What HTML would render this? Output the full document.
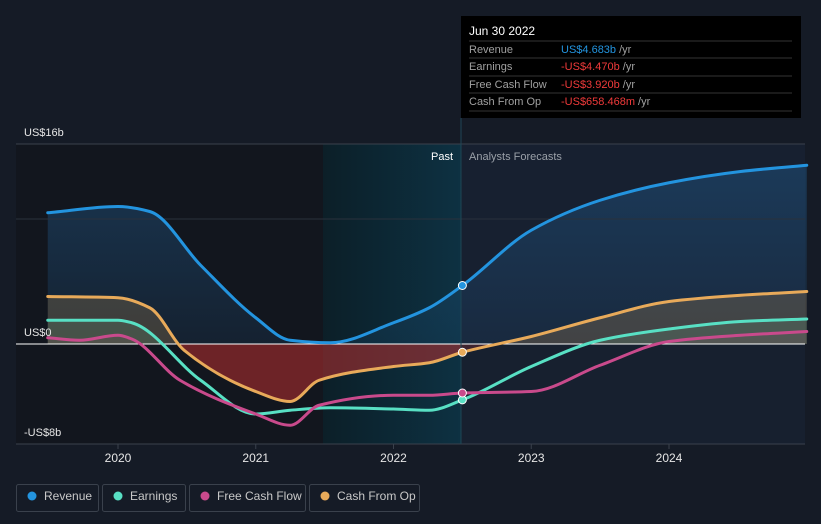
<!DOCTYPE html>
<html><head><meta charset="utf-8"><style>
body{margin:0;background:#151b26;width:821px;height:524px;overflow:hidden;font-family:"Liberation Sans",sans-serif}
svg{display:block}
</style></head><body>
<svg id="c" width="821" height="524">
<defs>
<linearGradient id="hl" x1="0" x2="1" y1="0" y2="0"><stop offset="0" stop-color="#0c1f28"/><stop offset="1" stop-color="#0d3142"/></linearGradient>
<linearGradient id="revg" x1="0" x2="0" y1="0" y2="1"><stop offset="0" stop-color="#1f4f7a" stop-opacity="0.55"/><stop offset="1" stop-color="#1f4f7a" stop-opacity="0.2"/></linearGradient>
<clipPath id="neg"><rect x="0" y="344" width="821" height="100"/></clipPath>
<clipPath id="pos"><rect x="0" y="0" width="821" height="344"/></clipPath>
</defs>
<rect x="16" y="144" width="307" height="300" fill="#12161e"/>
<rect x="323" y="144" width="138" height="300" fill="url(#hl)"/>
<rect x="461" y="144" width="344" height="300" fill="#172030"/>
<g id="fills"></g>
<line x1="16" x2="805" y1="144" y2="144" stroke="#3a414c"/>
<line x1="16" x2="805" y1="219" y2="219" stroke="#2a313c"/>
<line x1="16" x2="805" y1="444" y2="444" stroke="#3a414c"/>
<line x1="16" x2="805" y1="344" y2="344" stroke="#ffffff" stroke-width="1"/>
<line x1="461" x2="461" y1="118" y2="444" stroke="#1e4655"/>
<g id="lines"></g>
<g id="ticks" font-size="12" fill="#e6e6e6"></g>
<text x="24" y="136" font-size="11" fill="#e6e6e6">US$16b</text>
<text x="24" y="336" font-size="11" fill="#e6e6e6">US$0</text>
<text x="24" y="436" font-size="11" fill="#e6e6e6">-US$8b</text>
<text x="453" y="160" font-size="11" fill="#ffffff" text-anchor="end">Past</text>
<text x="469" y="160" font-size="11" fill="#9aa0a8">Analysts Forecasts</text>
<g font-size="11">
<rect x="461" y="16" width="340" height="102" fill="#000"/>
<text x="469" y="35" fill="#fff" font-size="12">Jun 30 2022</text>
<g stroke="#333"><line x1="469" x2="792" y1="41" y2="41"/><line x1="469" x2="792" y1="58" y2="58"/><line x1="469" x2="792" y1="76" y2="76"/><line x1="469" x2="792" y1="93" y2="93"/><line x1="469" x2="792" y1="111" y2="111"/></g>
<text x="469" y="53" fill="#a0a0a0">Revenue</text><text x="561" y="53" fill="#2394df">US$4.683b <tspan fill="#a0a0a0">/yr</tspan></text>
<text x="469" y="70" fill="#a0a0a0">Earnings</text><text x="561" y="70" fill="#f03a3a">-US$4.470b <tspan fill="#a0a0a0">/yr</tspan></text>
<text x="469" y="88" fill="#a0a0a0">Free Cash Flow</text><text x="561" y="88" fill="#f03a3a">-US$3.920b <tspan fill="#a0a0a0">/yr</tspan></text>
<text x="469" y="105" fill="#a0a0a0">Cash From Op</text><text x="561" y="105" fill="#f03a3a">-US$658.468m <tspan fill="#a0a0a0">/yr</tspan></text>
</g>
<g id="legend" font-size="12" fill="#c8c8c8"></g>
</svg>
<script>
const years=[2019.49,2020,2020.23,2020.6,2021,2021.25,2021.54,2022,2022.26,2022.5,2023,2023.5,2024,2024.52,2025];
const revenue=[10.5,11.0,10.6,6.3,2.1,0.3,0.1,1.7,2.9,4.68,9.1,11.5,12.9,13.8,14.3];
const earnYears=[2019.49,2020,2020.1,2020.6,2021,2021.25,2021.54,2022,2022.26,2022.5,2023,2023.5,2024,2024.52,2025];
const earnings=[1.9,1.9,1.7,-2.9,-5.6,-5.3,-5.1,-5.2,-5.3,-4.47,-1.8,0.3,1.2,1.8,2.0];
const fcfYears=[2019.49,2019.72,2020,2020.1,2020.45,2021,2021.25,2021.46,2022,2022.26,2022.5,2023,2023.5,2024,2024.52,2025];
const fcf=[0.5,0.3,0.7,0.4,-2.9,-5.6,-6.5,-4.9,-4.1,-4.1,-3.92,-3.8,-1.7,0.2,0.7,1.0];
const cfoYears=[2019.49,2020,2020.23,2020.48,2021,2021.25,2021.46,2022,2022.26,2022.5,2023,2023.5,2024,2024.52,2025];
const cfo=[3.8,3.7,2.9,-0.5,-3.8,-4.6,-2.9,-1.8,-1.5,-0.66,0.6,2.1,3.4,3.9,4.2];
const tickYears=[2020,2021,2022,2023,2024];
const tickLabels=["2020","2021","2022","2023","2024"];
const legendNames=["Revenue","Earnings","Free Cash Flow","Cash From Op"];
const X=y=>118+(y-2020)*137.75, Y=v=>344-v*12.5;
function path(xs,vs){const p=xs.map((x,i)=>[X(x),Y(vs[i])]);const n=p.length;
const dx=[],s=[];for(let i=0;i<n-1;i++){dx.push(p[i+1][0]-p[i][0]);s.push((p[i+1][1]-p[i][1])/dx[i]);}
const m=[s[0]];for(let i=1;i<n-1;i++){m.push(s[i-1]*s[i]<=0?0:(3*(dx[i-1]+dx[i]))/((2*dx[i]+dx[i-1])/s[i-1]+(dx[i]+2*dx[i-1])/s[i]));}m.push(s[n-2]);
let d=`M${p[0][0]},${p[0][1]}`;
for(let i=0;i<n-1;i++){const h=dx[i]/3;d+=`C${p[i][0]+h},${p[i][1]+m[i]*h} ${p[i+1][0]-h},${p[i+1][1]-m[i+1]*h} ${p[i+1][0]},${p[i+1][1]}`;}return d;}
const NS="http://www.w3.org/2000/svg";
function el(t,a,par){const e=document.createElementNS(NS,t);for(const k in a)e.setAttribute(k,a[k]);document.getElementById(par).appendChild(e);return e;}
const series=[[years,revenue,"#2394df","revenue"],[earnYears,earnings,"#58e0c4","earnings"],[fcfYears,fcf,"#c94a8c","free-cash-flow"],[cfoYears,cfo,"#e8aa5a","cash-from-op"]];
const fillCol=["url(#revg)","#5fd4b0","#c94a8c","#e8aa5a"],fillOp=[1,0.15,0.08,0.2];
series.forEach((s,i)=>{const d=path(s[0],s[1]);const x0=X(s[0][0]),x1=X(s[0][s[0].length-1]);
const f=el("path",{d:d+`L${x1},344L${x0},344Z`,fill:fillCol[i],"fill-opacity":fillOp[i],"clip-path":"url(#pos)"},"fills");

});
const nd=path(cfoYears,cfo);
const nf=el("path",{d:nd+`L${X(2025)},344L${X(2019.49)},344Z`,fill:"#b8302f","fill-opacity":0.55,"clip-path":"url(#neg)"},"fills");


const cover=el("rect",{x:461,y:344,width:344,height:100,fill:"#172030","fill-opacity":0.55},"fills");


series.forEach(s=>{const l=el("path",{d:path(s[0],s[1]),fill:"none",stroke:s[2],"stroke-width":3,"stroke-linecap":"round"},"lines");


const xs=s[0],vs=s[1];const k=xs.indexOf(2022.5);
const c=el("circle",{cx:X(xs[k]),cy:Y(vs[k]),r:4,fill:s[2],stroke:"#fff","stroke-width":1},"lines");

});
tickYears.forEach((t,i)=>{const tl=el("line",{x1:X(t),x2:X(t),y1:444,y2:449,stroke:"#3a414c"},"ticks");


const tx=el("text",{x:X(t),y:462,"text-anchor":"middle"},"ticks");tx.textContent=tickLabels[i];

});
const lx=[16,102,189,309],lw=[82,83,116,110];
legendNames.forEach((n,i)=>{const g=el("g",{},"legend");


const r=document.createElementNS(NS,"rect");Object.entries({x:lx[i]+0.5,y:484.5,width:lw[i],height:27,rx:2,fill:"none",stroke:"#3a414c"}).forEach(([k,v])=>r.setAttribute(k,v));g.appendChild(r);
const c=document.createElementNS(NS,"circle");Object.entries({cx:lx[i]+16,cy:496,r:4.5,fill:series[i][2]}).forEach(([k,v])=>c.setAttribute(k,v));g.appendChild(c);
const t=document.createElementNS(NS,"text");t.setAttribute("x",lx[i]+28);t.setAttribute("y",500);t.textContent=n;g.appendChild(t);});
</script>
</body></html>
